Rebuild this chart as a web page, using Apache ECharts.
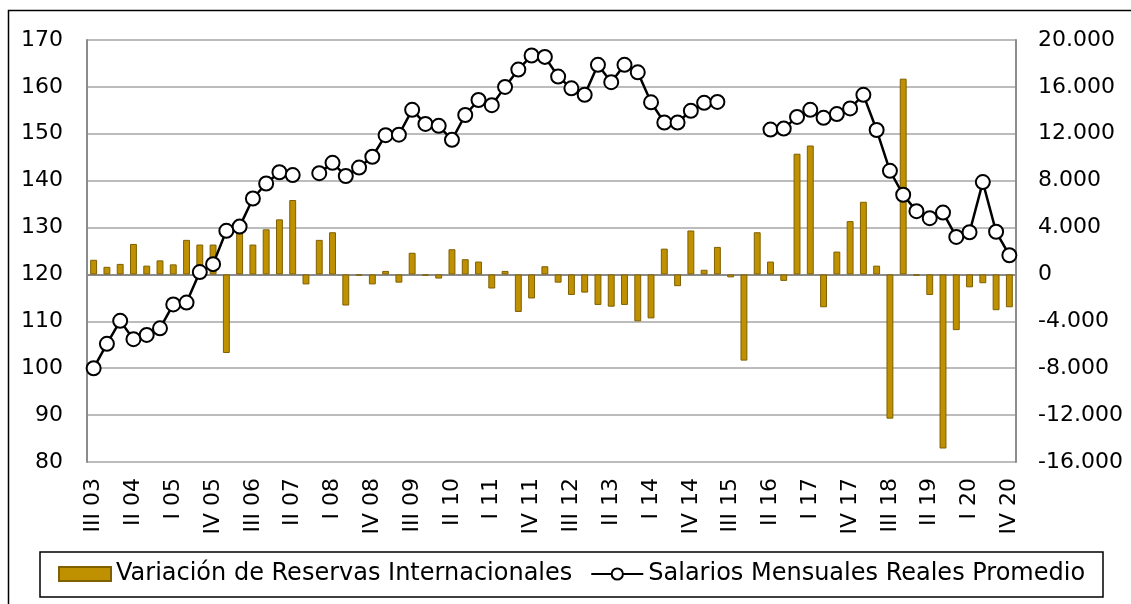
<!DOCTYPE html>
<html>
<head>
<meta charset="utf-8">
<script src="https://cdn.jsdelivr.net/npm/echarts@6/dist/echarts.min.js"></script>
<style>
  html, body { margin: 0; padding: 0; background: #fff; }
  #chart { width: 1131px; height: 604px; }
</style>
</head>
<body>
<div id="chart"></div>
<script>
// trimestres, III 03 .. IV 20
const quarters = [
  'III 03', 'IV 03',
  'I 04', 'II 04', 'III 04', 'IV 04',
  'I 05', 'II 05', 'III 05', 'IV 05',
  'I 06', 'II 06', 'III 06', 'IV 06',
  'I 07', 'II 07', 'III 07', 'IV 07',
  'I 08', 'II 08', 'III 08', 'IV 08',
  'I 09', 'II 09', 'III 09', 'IV 09',
  'I 10', 'II 10', 'III 10', 'IV 10',
  'I 11', 'II 11', 'III 11', 'IV 11',
  'I 12', 'II 12', 'III 12', 'IV 12',
  'I 13', 'II 13', 'III 13', 'IV 13',
  'I 14', 'II 14', 'III 14', 'IV 14',
  'I 15', 'II 15', 'III 15', 'IV 15',
  'I 16', 'II 16', 'III 16', 'IV 16',
  'I 17', 'II 17', 'III 17', 'IV 17',
  'I 18', 'II 18', 'III 18', 'IV 18',
  'I 19', 'II 19', 'III 19', 'IV 19',
  'I 20', 'II 20', 'III 20', 'IV 20'
]

// Variación de Reservas Internacionales (eje derecho)
const reservas = [
  1250, 650, 900, 2600, 750, 1200, 860, 2950, 2550, 2550,
  -6700, 3500, 2550, 3850, 4700, 6350, -850, 2950, 3600, -2650,
  -100, -850, 300, -700, 1850, -100, -350, 2150, 1300, 1100,
  -1200, 300, -3200, -2050, 700, -700, -1750, -1550, -2600, -2750,
  -2600, -4000, -3750, 2200, -1000, 3750, 400, 2350, -250, -7350,
  3600, 1100, -550, 10300, 11000, -2800, 1950, 4550, 6200, 750,
  -12300, 16700, -100, -1750, -14850, -4750, -1100, -750, -3050, -2800
]

// Salarios Mensuales Reales Promedio (eje izquierdo), null = sin dato
const salarios = [
  100, 105.2, 110.1, 106.2, 107.1, 108.5, 113.6, 114, 120.5, 122.2,
  129.3, 130.2, 136.2, 139.4, 141.8, 141.2, null, 141.6, 143.8, 141,
  142.8, 145.1, 149.7, 149.8, 155.1, 152.1, 151.7, 148.7, 154, 157.2,
  156.1, 160, 163.7, 166.7, 166.4, 162.2, 159.7, 158.3, 164.7, 161,
  164.7, 163.1, 156.7, 152.4, 152.4, 154.9, 156.6, 156.8, null, null,
  null, 150.9, 151.1, 153.6, 155.1, 153.4, 154.2, 155.4, 158.3, 150.8,
  142.1, 137, 133.5, 132, 133.2, 128, 129, 139.7, 129.1, 124.1
]

const FONT = 'DejaVu Sans'
const chart = echarts.init(document.getElementById('chart'))

function miles(v) {
  const s = String(Math.abs(v)).replace(/\B(?=(\d{3})+(?!\d))/g, '.')
  return (v < 0 ? '-' : '') + s
}

chart.setOption({
  animation: false,
  backgroundColor: '#fff',
  textStyle: { fontFamily: FONT },
  grid: { left: 87, right: 115, top: 40, bottom: 142 },
  graphic: [
    {
      type: 'rect', silent: true,
      shape: { x: 8.5, y: 10.5, width: 1300, height: 700 },
      style: { fill: 'none', stroke: '#000', lineWidth: 1.5 }
    },
    {
      type: 'rect', silent: true,
      shape: { x: 40, y: 552, width: 1063, height: 45 },
      style: { fill: 'none', stroke: '#000', lineWidth: 1.5 }
    }
  ],
  legend: {
    left: 58,
    top: 562,
    padding: 0,
    itemWidth: 52,
    itemHeight: 14,
    itemGap: 18,
    textStyle: { fontFamily: FONT, fontSize: 24, color: '#000', padding: [0, 0, 0, 0] },
    data: [
      { name: 'Variación de Reservas Internacionales', icon: 'rect' },
      { name: 'Salarios Mensuales Reales Promedio' }
    ]
  },
  xAxis: {
    type: 'category',
    data: quarters,
    boundaryGap: true,
    axisLine: { lineStyle: { color: '#8c8c8c', width: 2 } },
    axisTick: { interval: 0, length: 6, lineStyle: { color: '#8c8c8c', width: 1 } },
    axisLabel: {
      interval: 2,
      rotate: 90,
      margin: 16,
      fontFamily: FONT,
      fontSize: 22,
      color: '#000'
    }
  },
  yAxis: [
    {
      type: 'value',
      min: 80, max: 170, interval: 10,
      axisLine: { show: true, lineStyle: { color: '#8c8c8c', width: 2 } },
      axisTick: { show: false },
      axisLabel: { margin: 24, fontFamily: FONT, fontSize: 22, color: '#000' },
      splitLine: { lineStyle: { color: '#a6a6a6', width: 1.5 } }
    },
    {
      type: 'value',
      min: -16000, max: 20000, interval: 4000,
      axisLine: { show: true, lineStyle: { color: '#8c8c8c', width: 2 } },
      axisTick: { show: false },
      axisLabel: { margin: 22, fontFamily: FONT, fontSize: 22, color: '#000', formatter: miles },
      splitLine: { show: false }
    }
  ],
  series: [
    {
      name: 'Variación de Reservas Internacionales',
      type: 'bar',
      yAxisIndex: 1,
      data: reservas,
      barWidth: '52%',
      itemStyle: { color: '#bf9000', borderColor: '#7f6000', borderWidth: 1 }
    },
    {
      name: 'Salarios Mensuales Reales Promedio',
      type: 'line',
      yAxisIndex: 0,
      data: salarios,
      connectNulls: false,
      showAllSymbol: true,
      symbol: 'circle',
      symbolSize: 14,
      lineStyle: { color: '#000', width: 2.5 },
      itemStyle: { color: '#fff', borderColor: '#000', borderWidth: 2 },
      z: 3
    }
  ]
})
</script>
</body>
</html>
